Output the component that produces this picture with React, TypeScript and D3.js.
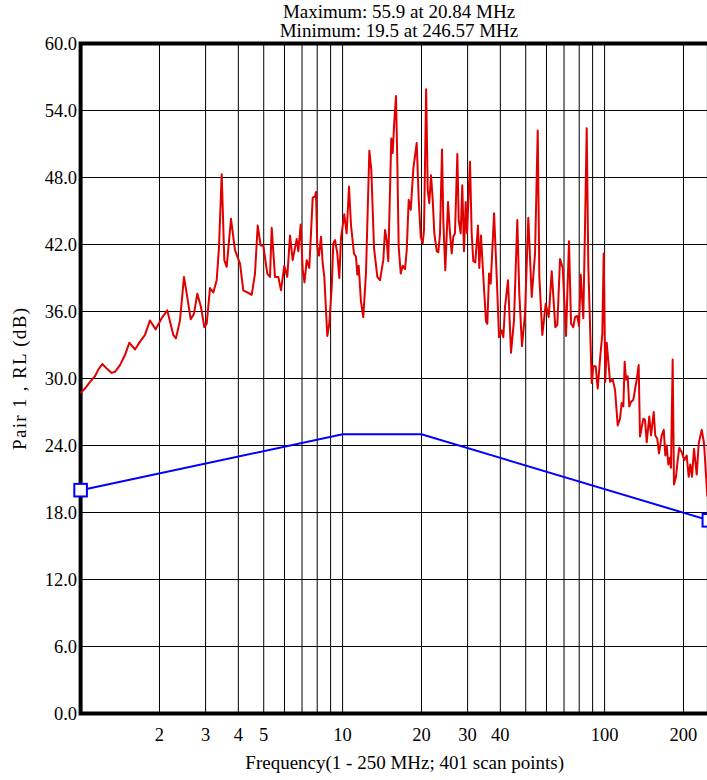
import React from "react";
import * as d3 from "d3";

// Measured return-loss trace (MHz, dB)
const rlFreq: number[] = [
  1.0, 1.039, 1.086, 1.135, 1.168, 1.21, 1.258, 1.314, 1.353, 1.414,
  1.477, 1.534, 1.613, 1.686, 1.761, 1.84, 1.934, 2.039, 2.142, 2.259,
  2.312, 2.395, 2.481, 2.541, 2.632, 2.709, 2.789, 2.88, 2.966, 3.029,
  3.118, 3.21, 3.307, 3.375, 3.456, 3.536, 3.611, 3.75, 3.884, 4.059,
  4.178, 4.499, 4.631, 4.742, 4.868, 4.982, 5.159, 5.283, 5.363, 5.521,
  5.683, 5.82, 5.99, 6.15, 6.298, 6.449, 6.68, 6.775, 6.92, 7.043,
  7.155, 7.295, 7.463, 7.69, 7.847, 7.916, 8.006, 8.127, 8.272, 8.395,
  8.516, 8.742, 8.897, 9.087, 9.215, 9.354, 9.546, 9.714, 9.86, 10.15,
  10.36, 10.58, 10.77, 11.05, 11.25, 11.38, 11.52, 11.75, 11.99, 12.28,
  12.65, 12.87, 13.18, 13.57, 13.89, 14.3, 14.52, 14.73, 14.94, 15.34,
  15.53, 15.75, 15.99, 16.17, 16.37, 16.67, 16.96, 17.31, 17.57, 17.88,
  18.2, 18.62, 19.18, 19.52, 19.87, 20.22, 20.45, 20.84, 21.13, 21.42,
  21.75, 22.08, 22.39, 22.87, 23.19, 23.54, 23.96, 24.23, 24.66, 25.26,
  25.7, 26.09, 26.46, 26.85, 27.41, 27.74, 28.23, 28.63, 29.06, 29.5,
  29.84, 30.64, 31.09, 31.54, 32.1, 32.87, 33.25, 33.75, 34.44, 35.27,
  35.68, 36.22, 36.76, 37.85, 38.75, 39.54, 40.49, 41.06, 41.68, 42.79,
  43.93, 45.1, 46.43, 47.25, 48.39, 49.68, 51.15, 52.7, 54.26, 55.56,
  56.35, 57.85, 59.61, 61.2, 62.83, 64.85, 66.01, 67.59, 69.21, 71.25,
  73.14, 74.45, 75.95, 77.1, 78.68, 79.87, 81.07, 82.94, 84.19, 85.46,
  86.67, 89.3, 90.57, 92.48, 94.13, 96.04, 98.0, 99.22, 100.6, 101.9,
  104.9, 107.4, 109.6, 112.2, 114.5, 116.2, 117.9, 119.3, 120.7, 122.5,
  124.2, 126.1, 128.7, 132.6, 134.9, 136.5, 140.5, 142.6, 144.8, 148.1,
  150.4, 154.0, 156.1, 158.9, 161.3, 165.2, 168.2, 170.5, 172.6, 175.1,
  177.7, 179.2, 181.9, 184.0, 187.3, 190.1, 192.8, 196.9, 201.5, 205.8,
  209.4, 212.4, 215.6, 219.4, 224.7, 228.7, 234.8, 239.6, 246.57, 250.0,
];
const rlValue: number[] = [
  28.7, 29.1, 29.7, 30.2, 30.8, 31.3, 30.9, 30.5, 30.6, 31.2,
  32.1, 33.2, 32.6, 33.3, 33.9, 35.2, 34.4, 35.4, 36.1, 33.9,
  33.6, 35.2, 39.1, 37.6, 35.3, 35.8, 37.6, 36.4, 34.6, 34.9,
  38.1, 37.7, 38.8, 41.8, 48.3, 40.6, 40.0, 44.3, 41.5, 40.3,
  37.9, 37.5, 39.4, 43.7, 41.9, 41.9, 39.4, 39.1, 43.5, 39.1,
  39.1, 37.9, 40.1, 39.1, 42.8, 40.6, 42.5, 41.4, 43.8, 39.7,
  38.6, 40.6, 39.9, 46.2, 46.3, 46.7, 41.8, 41.0, 42.7, 40.3,
  39.1, 33.8, 34.9, 38.2, 42.1, 42.4, 41.2, 39.0, 42.6, 44.7,
  43.0, 47.2, 43.7, 41.2, 40.9, 39.3, 40.1, 36.9, 35.5, 39.4,
  50.4, 48.7, 41.7, 39.1, 38.8, 40.6, 43.3, 42.4, 40.5, 51.5,
  50.2, 53.0, 55.3, 49.6, 41.8, 39.4, 40.1, 39.8, 41.5, 46.0,
  45.1, 48.8, 51.1, 46.0, 42.7, 42.1, 43.3, 55.9, 46.9, 45.7,
  48.2, 46.0, 43.0, 41.4, 41.3, 43.0, 50.5, 44.2, 39.7, 45.8,
  43.0, 41.2, 42.7, 43.0, 50.1, 44.2, 43.0, 47.3, 41.4, 45.8,
  43.0, 49.4, 43.0, 40.5, 40.4, 43.7, 39.9, 42.8, 39.1, 35.1,
  34.9, 39.4, 38.5, 44.8, 39.1, 33.7, 34.3, 33.7, 36.4, 38.8,
  32.3, 35.2, 44.2, 37.6, 32.9, 35.8, 44.4, 37.3, 41.2, 52.2,
  39.1, 33.9, 36.7, 35.5, 39.6, 34.6, 34.8, 40.7, 39.9, 33.8,
  42.3, 34.9, 34.6, 35.5, 35.6, 34.7, 39.3, 35.4, 43.6, 52.4,
  40.0, 29.6, 31.1, 31.1, 29.1, 31.7, 34.0, 41.2, 29.7, 33.2,
  29.7, 29.9, 29.0, 25.8, 26.4, 27.8, 27.5, 31.5, 29.9, 30.2,
  27.5, 27.9, 28.1, 29.9, 31.2, 24.8, 26.4, 26.3, 24.3, 26.6,
  24.9, 27.0, 24.9, 24.6, 23.3, 24.9, 25.4, 23.1, 24.0, 22.3,
  22.9, 22.0, 31.7, 20.5, 21.2, 22.7, 23.8, 23.4, 22.7, 23.1,
  21.2, 22.3, 21.2, 23.7, 21.4, 24.2, 25.4, 24.2, 19.5, 20.0,
];

// Limit line (MHz, dB)
const limitFreq: number[] = [1, 10, 20, 250];
const limitValue: number[] = [20, 25, 25, 17.3];

const yTicks: number[] = [0, 6, 12, 18, 24, 30, 36, 42, 48, 54, 60];
const xGrid: number[] = [2, 3, 4, 5, 6, 7, 8, 9, 10, 20, 30, 40, 50, 60, 70, 80, 90, 100, 200];
const xTickLabels: number[] = [2, 3, 4, 5, 10, 20, 30, 40, 100, 200];

const titleLines: string[] = [
  "Maximum: 55.9 at 20.84 MHz",
  "Minimum: 19.5 at 246.57 MHz",
];
const xAxisTitle = "Frequency(1 - 250 MHz; 401 scan points)";
const yAxisTitle = "Pair 1 , RL (dB)";

const W = 707;
const H = 780;
const left = 80.6;
const right = left + 262 * Math.log10(250);
const top = 43.5;
const bottom = 713.5;
const FONT = "'Liberation Serif', 'Times New Roman', serif";

export default function App() {
  const x = d3.scaleLog().domain([1, 250]).range([left, right]);
  const y = d3.scaleLinear().domain([0, 60]).range([bottom, top]);

  const rlData = rlFreq.map((f, i) => [f, rlValue[i]] as [number, number]);
  const limData = limitFreq.map((f, i) => [f, limitValue[i]] as [number, number]);

  const line = d3
    .line<[number, number]>()
    .x((d) => x(d[0]))
    .y((d) => y(d[1]));

  const markers = [limData[0], limData[limData.length - 1]];

  return (
    <svg
      width={W}
      height={H}
      style={{ position: "absolute", left: 0, top: 0, background: "#fff" }}
      fontFamily={FONT}
    >
      <rect x={0} y={0} width={W} height={H} fill="#fff" />
      {/* title */}
      {titleLines.map((t, i) => (
        <text key={t} x={399} y={18.3 + i * 19} textAnchor="middle" fontSize={19} fill="#000">
          {t}
        </text>
      ))}
      {/* horizontal grid */}
      {yTicks.map((v) => (
        <line key={"h" + v} x1={left} x2={right} y1={y(v)} y2={y(v)} stroke="#000" strokeWidth={1} />
      ))}
      {/* vertical grid */}
      {xGrid.map((f) => (
        <line key={"v" + f} x1={x(f)} x2={x(f)} y1={top} y2={bottom} stroke="#000" strokeWidth={1} />
      ))}
      {/* frame */}
      <rect x={left} y={top} width={right - left} height={bottom - top} fill="none" stroke="#000" strokeWidth={4} />
      {/* y tick labels */}
      {yTicks.map((v) => (
        <text key={"yl" + v} x={77} y={y(v)} dy="0.36em" textAnchor="end" fontSize={18.5} fill="#000">
          {v.toFixed(1)}
        </text>
      ))}
      {/* x tick labels */}
      {xTickLabels.map((f) => (
        <text key={"xl" + f} x={x(f)} y={740.7} textAnchor="middle" fontSize={18.5} fill="#000">
          {f}
        </text>
      ))}
      {/* axis titles */}
      <text x={404.7} y={768.7} textAnchor="middle" fontSize={19} fill="#000">
        {xAxisTitle}
      </text>
      <text
        transform={`translate(26,379) rotate(-90)`}
        textAnchor="middle"
        fontSize={19}
        fill="#000"
        textLength={142}
        lengthAdjust="spacing"
      >
        {yAxisTitle}
      </text>
      {/* data */}
      <path d={line(rlData) || ""} fill="none" stroke="#e00000" strokeWidth={2} strokeLinejoin="round" />
      <path d={line(limData) || ""} fill="none" stroke="#0000ff" strokeWidth={2} />
      {markers.map((d, i) => (
        <rect
          key={"m" + i}
          x={x(d[0]) - 6.3}
          y={y(d[1]) - 6.3}
          width={12.6}
          height={12.6}
          fill="#fff"
          stroke="#0000ff"
          strokeWidth={2}
        />
      ))}
    </svg>
  );
}
